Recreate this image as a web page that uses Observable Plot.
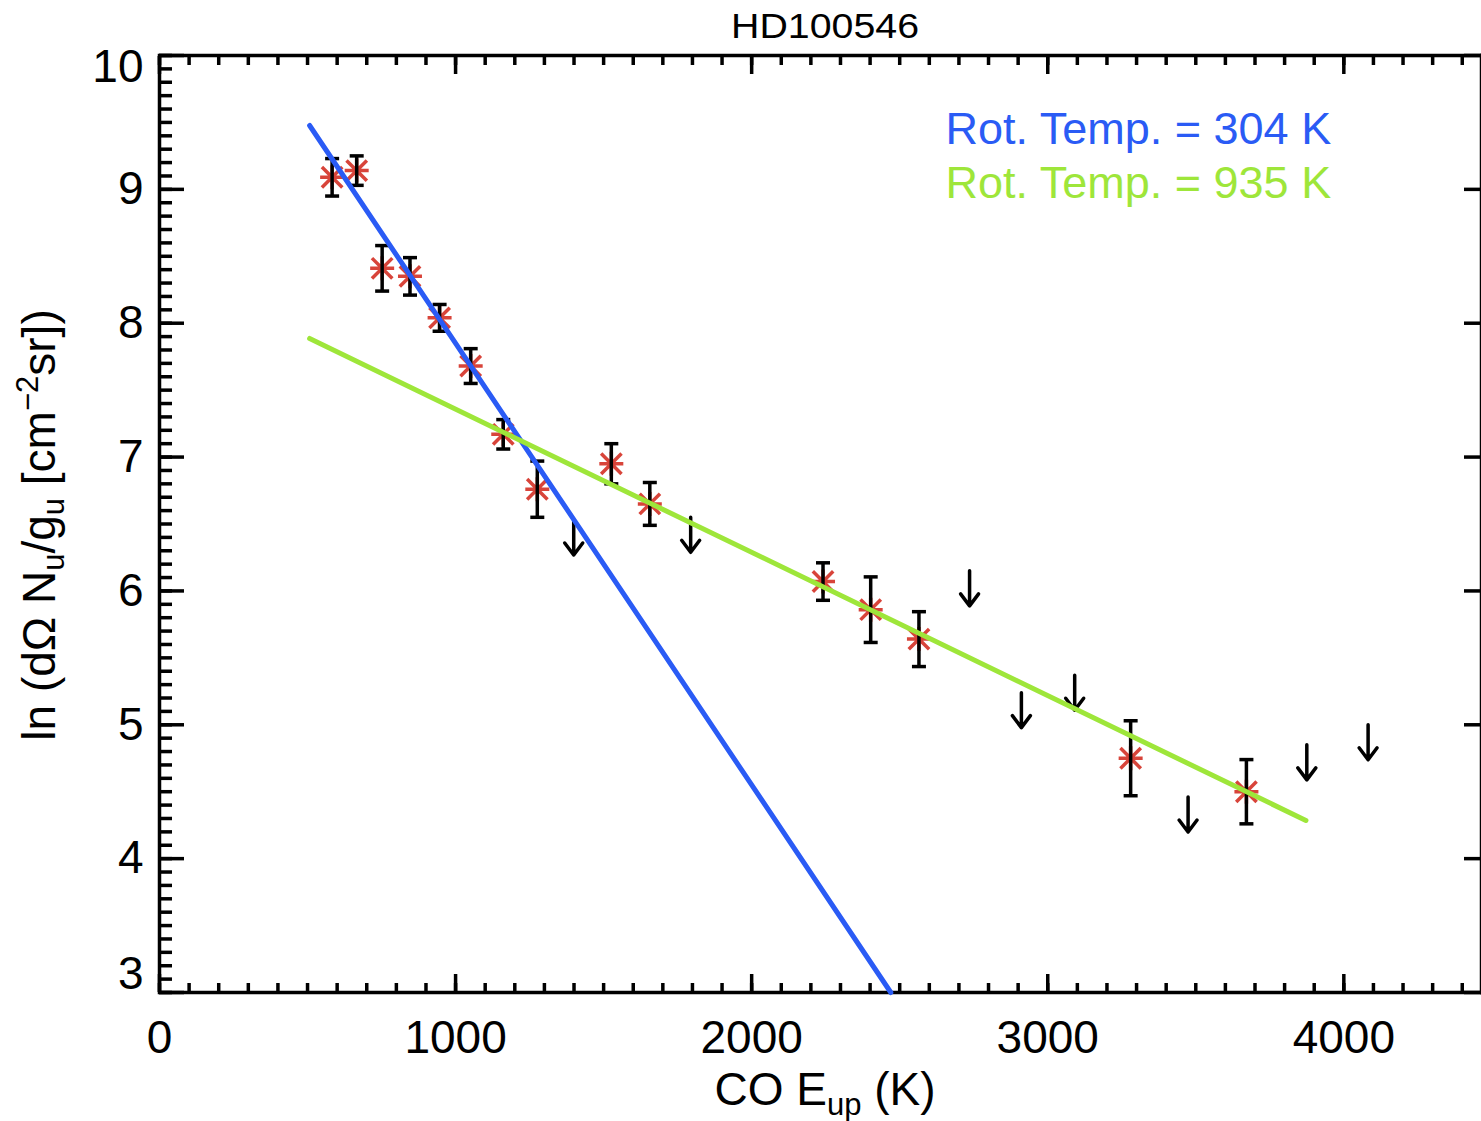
<!DOCTYPE html>
<html>
<head>
<meta charset="utf-8">
<script src="https://cdn.jsdelivr.net/npm/d3@7"></script>
<script src="https://cdn.jsdelivr.net/npm/@observablehq/plot@0.6"></script>
<style>
  html, body { margin: 0; padding: 0; background: #fff; }
  #chart svg { display: block; }
</style>
</head>
<body>
<div id="chart"></div>
<script>
// ---- Data ----
const titleText = "HD100546";
// Detected CO lines: upper-level energy (K), ln(dΩ Nu/gu), 1σ error
const eupDetected = [583, 666, 752, 846, 946, 1051, 1161, 1276, 1526, 1656, 2241, 2402, 2565, 3280, 3671];
const lnNDetected = [9.09, 9.14, 8.41, 8.35, 8.04, 7.68, 7.17, 6.76, 6.95, 6.65, 6.07, 5.86, 5.64, 4.75, 4.50];
const lnNError    = [0.14, 0.11, 0.17, 0.14, 0.10, 0.13, 0.11, 0.21, 0.15, 0.16, 0.14, 0.245, 0.205, 0.28, 0.24];
// Upper limits
const eupUpperLimit = [1399, 1794, 2736, 2911, 3091, 3474, 3875, 4082];
const lnNUpperLimit = [6.53, 6.55, 6.15, 5.24, 5.37, 4.46, 4.85, 5.00];
// Rotational-diagram fits (end points)
const coldFitEup = [507, 2470];
const coldFitLnN = [9.477, 3.0];
const warmFitEup = [507, 3872];
const warmFitLnN = [7.886, 4.285];
const fitLabels = ["Rot. Temp. = 304 K", "Rot. Temp. = 935 K"];
const fitColors = ["#2a5bf5", "#9ee63a"];
// Axis ticks
const xTickLabels = [0, 1000, 2000, 3000, 4000];
const yTickLabels = [3, 4, 5, 6, 7, 8, 9, 10];
const xDomain = [0, 4465];
const yDomain = [3, 10];

// ---- Build tables ----
const detected = eupDetected.map((x, i) => ({x, y: lnNDetected[i], e: lnNError[i]}));
const limits = eupUpperLimit.map((x, i) => ({x, y: lnNUpperLimit[i]}));
const coldFit = coldFitEup.map((x, i) => ({x, y: coldFitLnN[i]}));
const warmFit = warmFitEup.map((x, i) => ({x, y: warmFitLnN[i]}));
const xMinor = d3.range(xDomain[0], xDomain[1], 100);
const yMinor = d3.range(30, 101).map(v => v / 10);
const yInner = yTickLabels.filter(v => v !== yDomain[0] && v !== yDomain[1]);

// Custom glyphs
const asterisk = {
  draw(ctx, size) {
    const r = Math.sqrt(size / Math.PI), d = r * 0.85;
    ctx.moveTo(-r, 0); ctx.lineTo(r, 0);
    ctx.moveTo(0, -r); ctx.lineTo(0, r);
    ctx.moveTo(-d, -d); ctx.lineTo(d, d);
    ctx.moveTo(-d, d); ctx.lineTo(d, -d);
  }
};
const capBar = {
  draw(ctx, size) {
    const r = Math.sqrt(size / Math.PI);
    ctx.moveTo(-r, 0); ctx.lineTo(r, 0);
  }
};
const downArrow = {
  draw(ctx, l) {
    ctx.moveTo(0, 0); ctx.lineTo(0, -l);
    ctx.moveTo(-9, -l + 12); ctx.lineTo(0, -l); ctx.lineTo(9, -l + 12);
  }
};

const FONT = '"Liberation Sans", Arial, Helvetica, sans-serif';
const SW = 3.5;
const tickOnly = {fill: "none", tickFormat: () => "", label: null, strokeWidth: SW};

const chart = Plot.plot({
  width: 1481,
  height: 1121,
  marginTop: 55,
  marginBottom: 129,
  marginLeft: 159,
  marginRight: 0,
  style: {fontFamily: FONT, background: "#fff", color: "#000"},
  x: {domain: xDomain},
  y: {domain: yDomain},
  marks: [
    // inward ticks on all four sides
    Plot.axisX({anchor: "bottom", ticks: xTickLabels, tickSize: -18, ...tickOnly}),
    Plot.axisX({anchor: "bottom", ticks: xMinor, tickSize: -9, ...tickOnly}),
    Plot.axisX({anchor: "top", ticks: xTickLabels, tickSize: -18, ...tickOnly}),
    Plot.axisX({anchor: "top", ticks: xMinor, tickSize: -9, ...tickOnly}),
    Plot.axisY({anchor: "left", ticks: yTickLabels, tickSize: -25, ...tickOnly}),
    Plot.axisY({anchor: "left", ticks: yMinor, tickSize: -13, ...tickOnly}),
    Plot.axisY({anchor: "right", ticks: yTickLabels, tickSize: -18, ...tickOnly}),
    Plot.axisY({anchor: "right", ticks: yMinor, tickSize: -2, ...tickOnly}),
    // tick labels
    Plot.axisX({anchor: "bottom", ticks: xTickLabels, tickSize: 0, tickPadding: 28, fontSize: 46, tickFormat: d => `${d}`, label: null}),
    Plot.axisY({anchor: "left", ticks: yInner, tickSize: 0, tickPadding: 16, fontSize: 46, tickFormat: d => `${d}`, label: null}),
    Plot.axisY({anchor: "left", ticks: [yDomain[1]], tickSize: 0, tickPadding: 16, fontSize: 46, dy: 12, tickFormat: d => `${d}`, label: null}),
    Plot.axisY({anchor: "left", ticks: [yDomain[0]], tickSize: 0, tickPadding: 16, fontSize: 46, dy: -18, tickFormat: d => `${d}`, label: null}),
    Plot.frame({stroke: "#000", strokeWidth: SW}),
    // data
    Plot.dot(detected, {x: "x", y: "y", symbol: asterisk, r: 12, fill: "none", stroke: "#d8443a", strokeWidth: 3.5}),
    Plot.ruleX(detected, {x: "x", y1: d => d.y - d.e, y2: d => d.y + d.e, stroke: "#000", strokeWidth: SW}),
    Plot.dot(detected, {x: "x", y: d => d.y + d.e, symbol: capBar, r: 7, fill: "none", stroke: "#000", strokeWidth: SW}),
    Plot.dot(detected, {x: "x", y: d => d.y - d.e, symbol: capBar, r: 7, fill: "none", stroke: "#000", strokeWidth: SW}),
    Plot.vector(limits, {x: "x", y: "y", length: 35, rotate: 180, anchor: "start", shape: downArrow, stroke: "#000", strokeWidth: SW}),
    // fits
    Plot.line(coldFit, {x: "x", y: "y", stroke: fitColors[0], strokeWidth: 5}),
    Plot.line(warmFit, {x: "x", y: "y", stroke: fitColors[1], strokeWidth: 5}),
    // legend
    Plot.text([fitLabels[0]], {text: d => d, frameAnchor: "top-left", dx: 786, dy: 57, lineAnchor: "top", textAnchor: "start", fill: fitColors[0], fontSize: 45}),
    Plot.text([fitLabels[1]], {text: d => d, frameAnchor: "top-left", dx: 786, dy: 111, lineAnchor: "top", textAnchor: "start", fill: fitColors[1], fontSize: 45})
  ]
});

document.getElementById("chart").appendChild(chart);

// Title and axis titles with sub/superscripts
const svg = d3.select(chart);
svg.append("text")
  .attr("x", 825).attr("y", 38)
  .attr("text-anchor", "middle")
  .attr("font-family", FONT).attr("font-size", 35)
  .attr("textLength", 188).attr("lengthAdjust", "spacingAndGlyphs")
  .attr("fill", "#000")
  .text(titleText);

const xl = svg.append("text")
  .attr("x", 825).attr("y", 1105)
  .attr("text-anchor", "middle")
  .attr("font-family", FONT).attr("font-size", 46)
  .attr("fill", "#000")
  .style("white-space", "pre");
xl.append("tspan").text("CO E");
xl.append("tspan").attr("font-size", 31).attr("dy", 10).text("up");
xl.append("tspan").attr("dy", -10).text(" (K)");

const yl = svg.append("text")
  .attr("transform", "translate(55,525) rotate(-90)")
  .attr("text-anchor", "middle")
  .attr("font-family", FONT).attr("font-size", 46)
  .attr("fill", "#000")
  .style("white-space", "pre");
yl.append("tspan").text("ln (dΩ N");
yl.append("tspan").attr("font-size", 31).attr("dy", 9).text("u");
yl.append("tspan").attr("dy", -9).text("/g");
yl.append("tspan").attr("font-size", 31).attr("dy", 9).text("u");
yl.append("tspan").attr("dy", -9).text(" [cm");
yl.append("tspan").attr("font-size", 31).attr("dy", -17).text("−2");
yl.append("tspan").attr("dy", 17).text("sr])");
</script>
</body>
</html>
